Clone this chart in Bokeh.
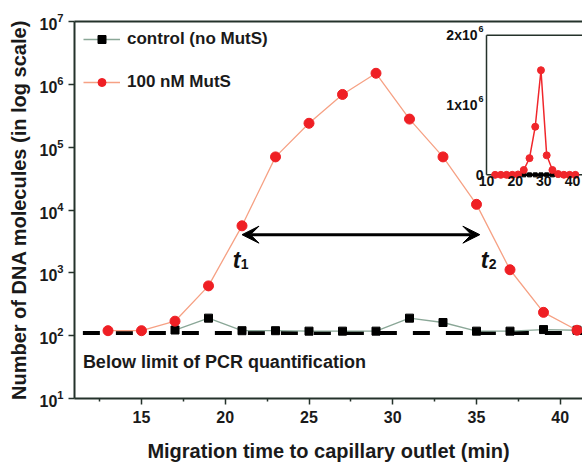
from bokeh.plotting import figure
from bokeh.models import (Range1d, LinearScale, FixedTicker, LinearAxis, Legend, LegendItem,
                          Arrow, VeeHead)
from bokeh.core.properties import value
from bokeh.embed import file_html
from bokeh.resources import INLINE

# ---------------- data ----------------
time_min = [13, 15, 17, 19, 21, 23, 25, 27, 29, 31, 33, 35, 37, 39, 41]
mutS_100nM = [120, 120, 170, 620, 5600, 70000, 240000, 690000, 1500000, 280000, 70000, 12300, 1120, 235, 122]
control_time = [17, 19, 21, 23, 25, 27, 29, 31, 33, 35, 37, 39, 41]
control_no_mutS = [123, 190, 120, 120, 118, 118, 118, 190, 162, 118, 118, 125, 122]
pcr_limit = 110
pcr_limit_x = [11.5, 41.4]

x_ticks = [15, 20, 25, 30, 35, 40]
x_minor = [12.5, 17.5, 22.5, 27.5, 32.5, 37.5]
y_ticks = [10, 100, 1000, 10000, 100000, 1000000, 10000000]

inset_x_ticks = [10, 20, 30, 40]
inset_y_ticks = [0, 1000000, 2000000]
inset_y_base = ["0", "1x10", "2x10"]
inset_y_exp = ["", "6", "6"]

t_arrow = [21.0, 35.2]
t_arrow_y = 4050
t_labels_x = [20.45, 35.25]
t_labels_y = [1620, 1620]
t_subs = ["1", "2"]
below_text_x = 11.5
below_text_y = 38

FONT = "Liberation Sans"
AXIS_COL = "#24322b"

# ---------------- layout (pixels) ----------------
W, H = 582, 464
B_LEFT, B_RIGHT, B_TOP, B_BOTTOM = 74, 0, 21, 62
FW = W - B_LEFT - B_RIGHT
FH = H - B_TOP - B_BOTTOM
X0 = 11.0
PX_PER_MIN = 16.75
X1 = X0 + FW / PX_PER_MIN

# inset geometry, frame-relative pixels
IN_X10, IN_X40 = 412.0, 498.0
IN_Y0, IN_Y2M = 155.0, 14.0
ippx = (IN_X40 - IN_X10) / 30.0
in_x_start = 10 - IN_X10 / ippx
in_x_end = 10 + (FW - IN_X10) / ippx
ippy = (IN_Y0 - IN_Y2M) / 2e6
in_y_end = (IN_Y0) / ippy
in_y_start = -(FH - IN_Y0) / ippy

p = figure(width=W, height=H, y_axis_type="log", output_backend="svg", toolbar_location=None,
           x_range=Range1d(X0, X1), y_range=Range1d(10, 1e7),
           min_border_left=B_LEFT, min_border_right=B_RIGHT, min_border_top=B_TOP,
           min_border_bottom=B_BOTTOM)
p.outline_line_color = None
p.xgrid.visible = False
p.ygrid.visible = False
p.background_fill_color = "white"
p.border_fill_color = "white"

p.extra_x_ranges = {"ix": Range1d(in_x_start, in_x_end)}
p.extra_y_ranges = {"iy": Range1d(in_y_start, in_y_end)}
p.extra_x_scales = {"ix": LinearScale()}
p.extra_y_scales = {"iy": LinearScale()}

# axes
xa = p.xaxis[0]
xa.ticker = FixedTicker(ticks=x_ticks, minor_ticks=x_minor)
ya = p.yaxis[0]
ya.ticker = FixedTicker(ticks=y_ticks, minor_ticks=[])
for ax in (xa, ya):
    ax.axis_line_color = AXIS_COL
    ax.axis_line_width = 2
    ax.major_tick_line_color = AXIS_COL
    ax.major_tick_line_width = 1.5
    ax.minor_tick_line_color = AXIS_COL
    ax.minor_tick_line_width = 1.5
    ax.major_tick_in = 0
    ax.major_tick_out = 6
    ax.minor_tick_in = 0
    ax.minor_tick_out = 3
    ax.major_label_text_font = FONT
    ax.major_label_text_font_style = "bold"
    ax.major_label_text_font_size = "16px"
    ax.major_label_text_color = "#1a1a1a"
    ax.axis_label_text_font = FONT
    ax.axis_label_text_font_style = "bold"
    ax.axis_label_text_font_size = "20px"
    ax.axis_label_text_color = "#1a1a1a"
xa.axis_label = "Migration time to capillary outlet (min)"
ya.axis_label = "Number of DNA molecules (in log scale)"
xa.major_label_standoff = 6
xa.axis_label_standoff = 14
ya.major_label_standoff = 5
ya.axis_label_standoff = 6

top = LinearAxis(ticker=FixedTicker(ticks=[]), axis_line_color=AXIS_COL, axis_line_width=2,
                 major_label_text_font_size="0px", major_tick_line_color=None,
                 minor_tick_line_color=None)
p.add_layout(top, "above")

# PCR limit dashed line
p.line(pcr_limit_x, [pcr_limit, pcr_limit], line_color="black", line_width=4, line_dash="17 16")

# control
r_cl = p.line(control_time, control_no_mutS, line_color="#8aa797", line_width=1.3)
r_cm = p.scatter(control_time, control_no_mutS, marker="square", size=8, color="black")
# MutS
r_ml = p.line(time_min, mutS_100nM, line_color="#f6a184", line_width=1.3)
r_mm = p.scatter(time_min, mutS_100nM, marker="circle", size=10, color="#ef1f24")

legend = Legend(items=[LegendItem(label="control (no MutS)", renderers=[r_cl, r_cm]),
                       LegendItem(label="100 nM MutS", renderers=[r_ml, r_mm])],
                location=(9, 306), glyph_width=37, glyph_height=20, label_height=20,
                label_standoff=7, spacing=23, padding=0, margin=0,
                border_line_color=None, background_fill_alpha=0,
                label_text_font=FONT, label_text_font_style="bold",
                label_text_font_size="17px", label_text_color="#1a1a1a")
p.add_layout(legend, "center")

# arrow t1 -> t2
p.add_layout(Arrow(x_start=t_arrow[0], x_end=t_arrow[1], y_start=t_arrow_y, y_end=t_arrow_y,
                   line_width=3, line_color="black",
                   start=VeeHead(size=17, fill_color="black", line_color="black"),
                   end=VeeHead(size=17, fill_color="black", line_color="black")))
p.text(t_labels_x, t_labels_y, text=["t", "t"], text_font=value(FONT), text_font_style="bold italic",
       text_font_size="23px", text_baseline="alphabetic", text_align="left", text_color="#111111")
p.text(t_labels_x, t_labels_y, text=t_subs, text_font=value(FONT), text_font_style="bold",
       text_font_size="14px", text_baseline="alphabetic", text_align="left", text_color="#111111",
       x_offset=8, y_offset=4)

p.text([below_text_x], [below_text_y], text=["Below limit of PCR quantification"],
       text_font=value(FONT), text_font_style="bold", text_font_size="18px",
       text_baseline="alphabetic", text_align="left", text_color="#1a1a1a")

# ---------------- inset ----------------
kw = dict(x_range_name="ix", y_range_name="iy")
p.line([10, 10], [0, 2e6], line_color=AXIS_COL, line_width=1.5, **kw)
p.line([10, 50], [2e6, 2e6], line_color=AXIS_COL, line_width=1.5, **kw)
p.line([10, 50], [0, 0], line_color=AXIS_COL, line_width=1.5, **kw)
p.line(control_time, control_no_mutS, line_color="black", line_width=2.5, **kw)
p.scatter(control_time, control_no_mutS, marker="square", size=4, color="black", **kw)
p.line(time_min, mutS_100nM, line_color="#f0262b", line_width=1.5, **kw)
p.scatter(time_min, mutS_100nM, marker="circle", size=7, color="#f0262b", **kw)

p.text(inset_x_ticks, [0] * len(inset_x_ticks), text=[str(t) for t in inset_x_ticks],
       text_font=value(FONT), text_font_style="bold", text_font_size="14px",
       text_baseline="top", text_align="center", text_color="#111111", y_offset=1, **kw)
p.text([10] * 3, inset_y_ticks, text=inset_y_base, text_font=value(FONT), text_font_style="bold",
       text_font_size="14px", text_baseline="middle", text_align="right", text_color="#111111",
       x_offset=[-3, -9, -9], **kw)
p.text([10] * 3, inset_y_ticks, text=inset_y_exp, text_font=value(FONT), text_font_style="bold",
       text_font_size="9px", text_baseline="middle", text_align="right", text_color="#111111",
       x_offset=-3, y_offset=-6, **kw)

open("out.html", "w").write(file_html(p, INLINE))
